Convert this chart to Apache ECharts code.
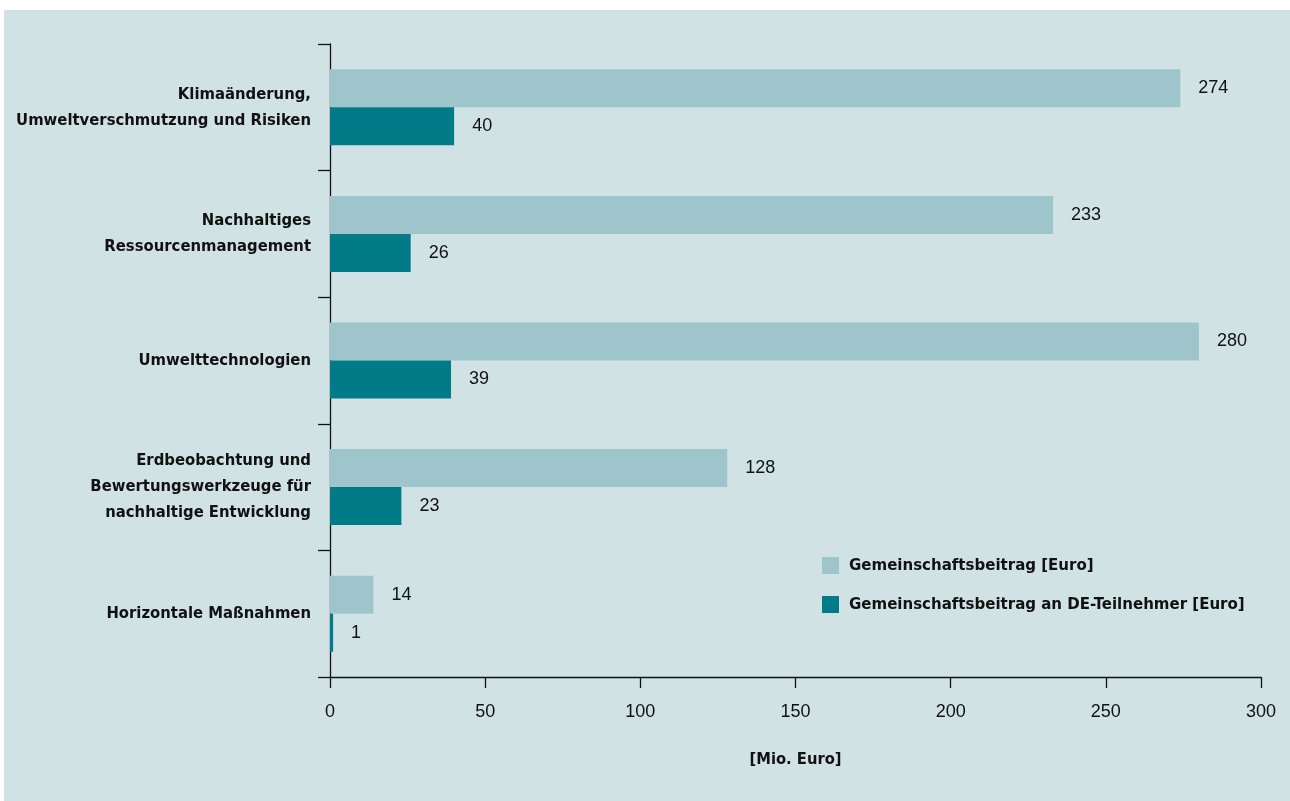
<!DOCTYPE html>
<html>
<head>
<meta charset="utf-8">
<script src="https://cdn.jsdelivr.net/npm/echarts@6/dist/echarts.min.js"></script>
<style>
html,body{margin:0;padding:0;background:#ffffff;}
#chart{width:1290px;height:801px;}
</style>
</head>
<body>
<div id="chart"></div>
<script>
const categories = [
  "Klimaänderung,\nUmweltverschmutzung und Risiken",
  "Nachhaltiges\nRessourcenmanagement",
  "Umwelttechnologien",
  "Erdbeobachtung und\nBewertungswerkzeuge für\nnachhaltige Entwicklung",
  "Horizontale Maßnahmen"
];
const seriesNames = ["Gemeinschaftsbeitrag [Euro]", "Gemeinschaftsbeitrag an DE-Teilnehmer [Euro]"];
const totalValues = [274, 233, 280, 128, 14];
const deValues = [40, 26, 39, 23, 1];
const xTicks = { min: 0, max: 300, interval: 50 };
const axisName = "[Mio. Euro]";

const condBold = '"DejaVu Sans Condensed", "DejaVu Sans", sans-serif';
const narrow = '"Liberation Sans Narrow", "Liberation Sans", Arial, sans-serif';
const textColor = '#111111';

const chart = echarts.init(document.getElementById('chart'));
chart.setOption({
  animation: false,
  backgroundColor: '#ffffff',
  graphic: [{
    type: 'rect', z: -10, silent: true,
    shape: { x: 4, y: 10, width: 1286, height: 791 },
    style: { fill: '#d1e2e5' }
  }],
  grid: { left: 330, right: 29, top: 44, bottom: 124, containLabel: false },
  legend: {
    orient: 'vertical', left: 822, top: 557, padding: 0,
    itemWidth: 17, itemHeight: 17, itemGap: 22,
    icon: 'rect',
    textStyle: { fontFamily: condBold, fontWeight: 'bold', fontSize: 16.7, color: textColor, padding: [0,0,0,5] },
    data: seriesNames
  },
  xAxis: {
    type: 'value', min: xTicks.min, max: xTicks.max, interval: xTicks.interval,
    name: axisName, nameLocation: 'middle', nameGap: 75,
    nameTextStyle: { fontFamily: condBold, fontWeight: 'bold', fontSize: 16.4, color: textColor },
    axisLine: { show: true, lineStyle: { color: '#111', width: 1.3 } },
    axisTick: { show: true, length: 11, lineStyle: { color: '#111', width: 1.3 } },
    axisLabel: { margin: 26, fontFamily: narrow, fontSize: 18, color: textColor },
    splitLine: { show: false }
  },
  yAxis: {
    type: 'category', inverse: true, data: categories,
    axisLine: { show: true, lineStyle: { color: '#111', width: 1.3 } },
    axisTick: { show: true, length: 12, lineStyle: { color: '#111', width: 1.3 } },
    axisLabel: { margin: 19, fontFamily: condBold, fontWeight: 'bold', fontSize: 16.5, lineHeight: 26, color: textColor, align: 'right' }
  },
  series: [
    {
      name: seriesNames[0], type: 'bar', data: totalValues,
      barGap: '0%', barCategoryGap: '40%',
      itemStyle: { color: '#9fc5cc' },
      label: { show: true, position: 'right', distance: 18, fontFamily: narrow, fontSize: 18, color: textColor }
    },
    {
      name: seriesNames[1], type: 'bar', data: deValues,
      barGap: '0%', barCategoryGap: '40%',
      itemStyle: { color: '#007b87' },
      label: { show: true, position: 'right', distance: 18, fontFamily: narrow, fontSize: 18, color: textColor }
    }
  ]
});
</script>
</body>
</html>
